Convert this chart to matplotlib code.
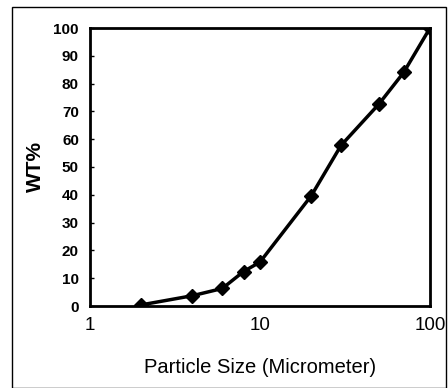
import matplotlib
matplotlib.use("Agg")
import matplotlib.pyplot as plt
from matplotlib.patches import Rectangle
from matplotlib.ticker import FixedLocator, NullLocator

# particle size distribution (cumulative)
size_um = [2, 4, 6, 8, 10, 20, 30, 50, 70, 100]
wt_pct = [0.4, 3.7, 6.3, 12.4, 15.8, 39.6, 57.8, 72.6, 84.0, 100.0]
yticks = [0, 10, 20, 30, 40, 50, 60, 70, 80, 90, 100]
xticks = [1, 10, 100]

plt.rcParams['font.family'] = ['Liberation Sans', 'DejaVu Sans']

fig = plt.figure(figsize=(4.48, 3.88), dpi=100)
# outer frame around the whole chart
fig.patches.append(Rectangle((12/448, 0.0), 434/448, 1 - 7/388,
                             transform=fig.transFigure, fill=False,
                             edgecolor='black', linewidth=1.0))

ax = fig.add_axes([90/448, 82/388, 340/448, 278/388])
ax.plot(size_um, wt_pct, color='black', linewidth=2.5, marker='D',
        markersize=7, markerfacecolor='black')
ax.set_xscale('log')
ax.set_xlim(1, 100)
ax.set_ylim(0, 100)
ax.xaxis.set_major_locator(FixedLocator(xticks))
ax.xaxis.set_minor_locator(NullLocator())
ax.set_xticks(xticks)
ax.set_xticklabels([str(v) for v in xticks], fontsize=13.5)
ax.set_yticks(yticks)
ax.set_yticklabels([str(v) for v in yticks], fontsize=11, fontweight='bold')
ax.tick_params(axis='x', length=0, pad=8)
ax.tick_params(axis='y', direction='in', length=3, width=1, pad=8)
for s in ax.spines.values():
    s.set_linewidth(2)

ax.set_xlabel('Particle Size (Micrometer)', fontsize=14.5, labelpad=17)
ax.set_ylabel('WT%', fontsize=15, fontweight='bold', labelpad=6)

fig.savefig('out.png', dpi=100)
